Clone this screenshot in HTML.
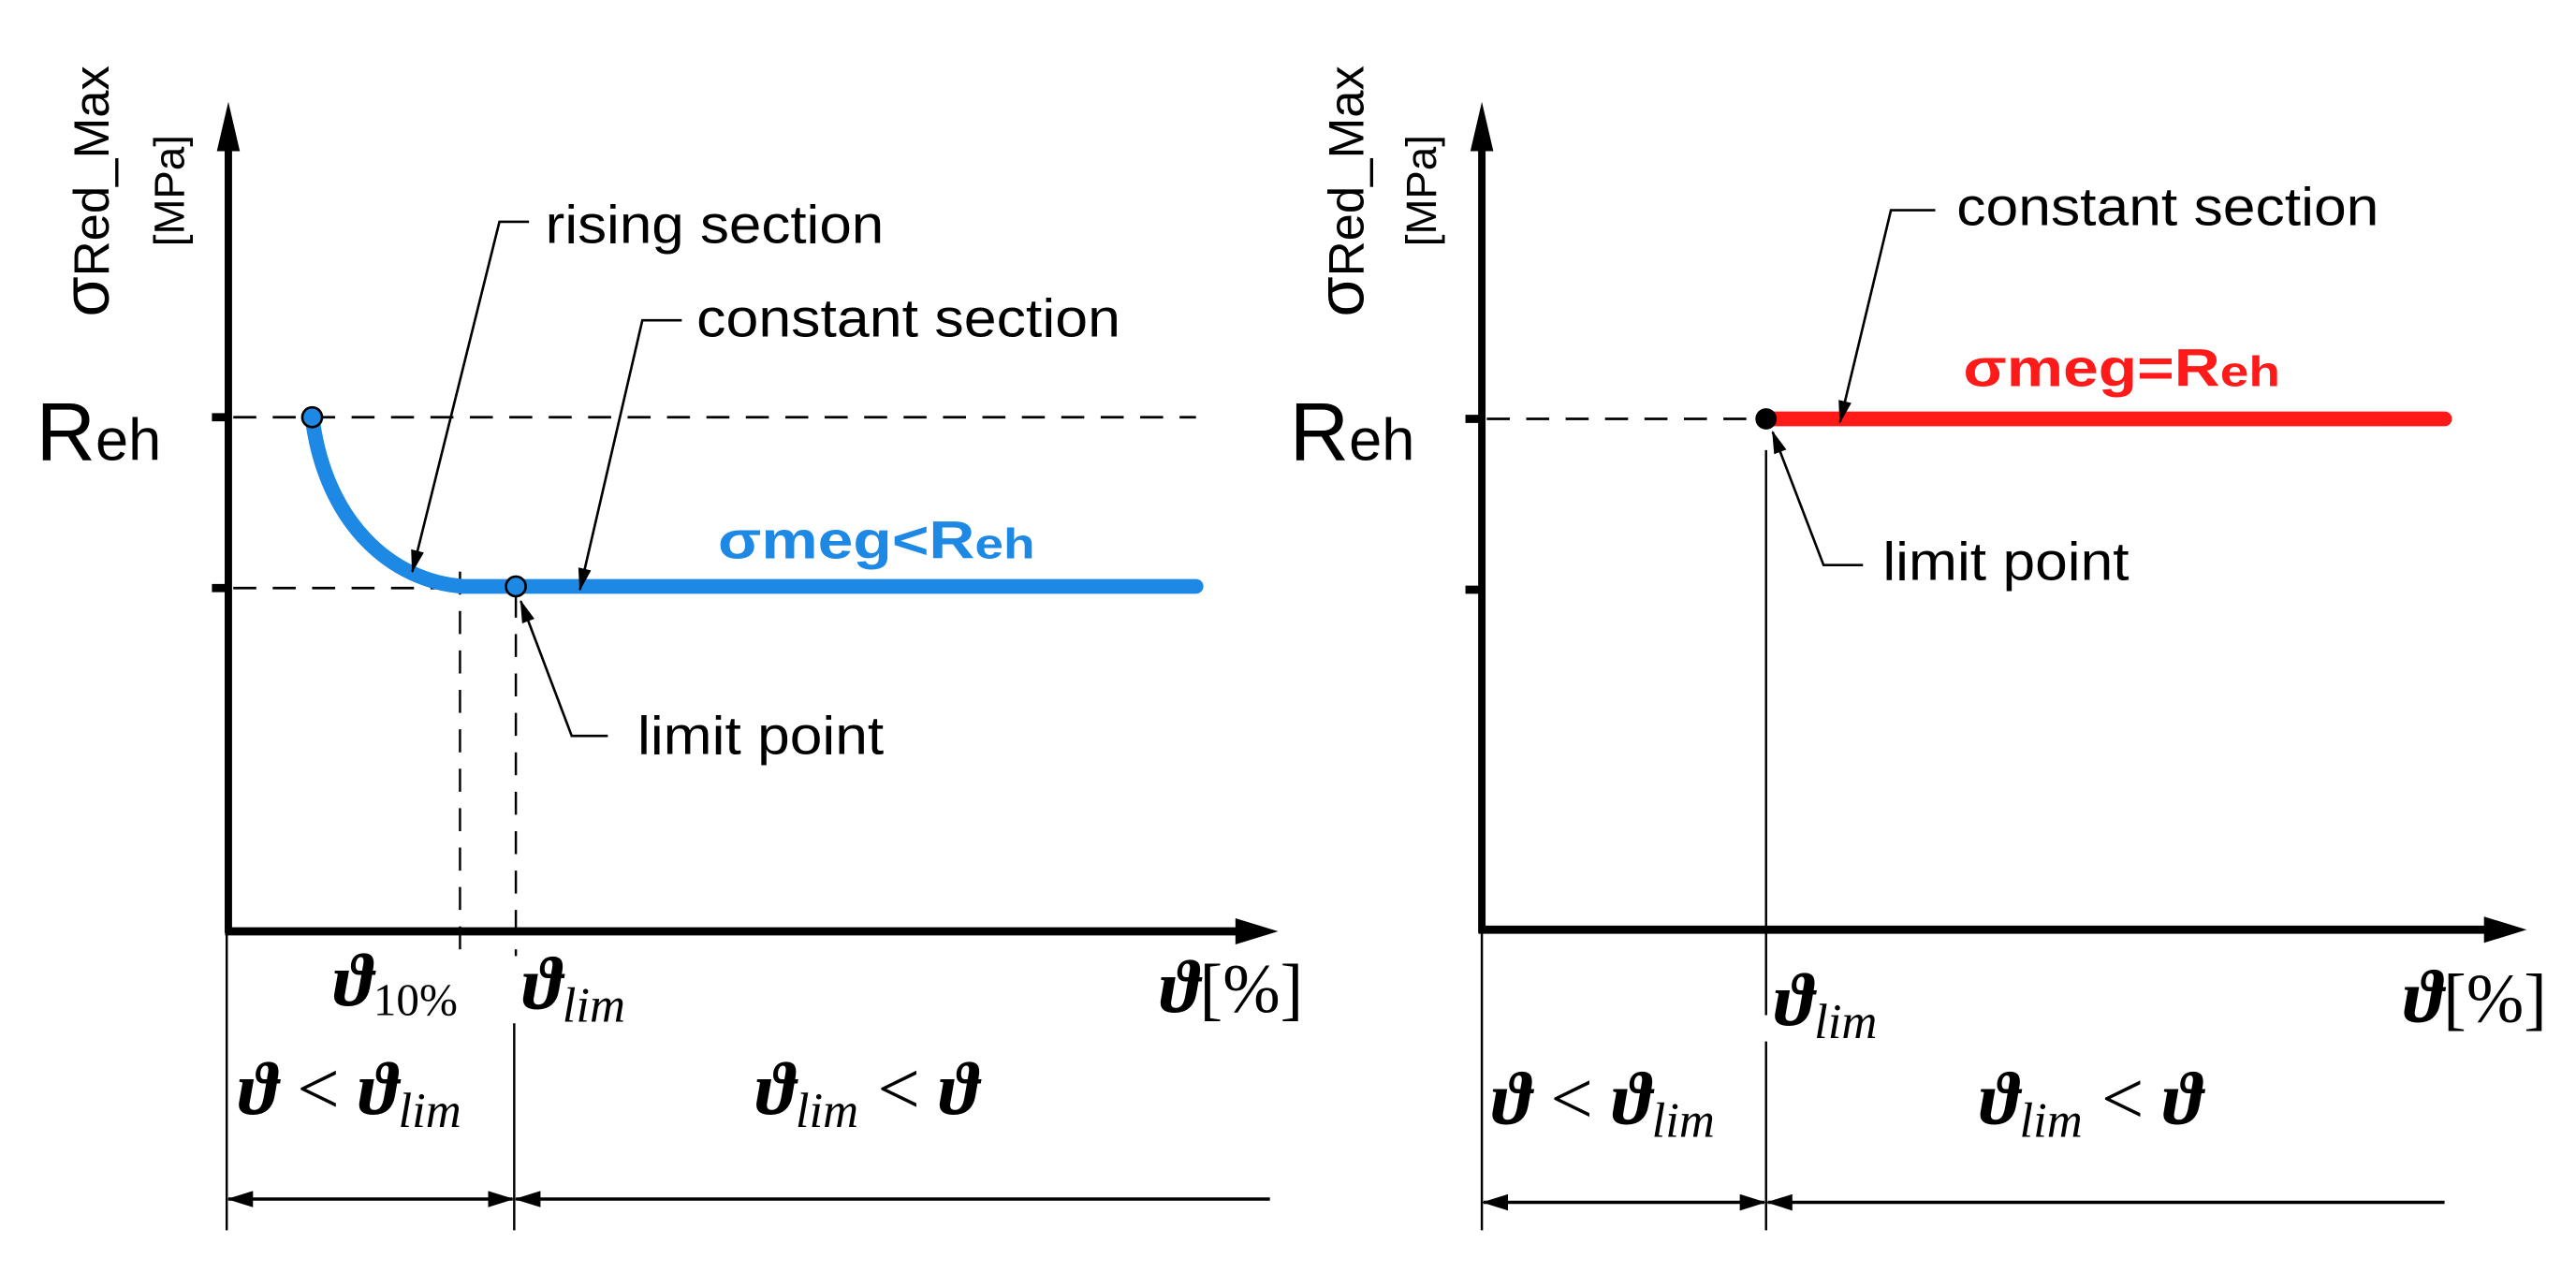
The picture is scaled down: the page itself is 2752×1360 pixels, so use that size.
<!DOCTYPE html>
<html><head><meta charset="utf-8"><style>
html,body{margin:0;padding:0;background:#fff;}
svg{display:block;}
.lbl{font-family:"Liberation Sans",Arial,sans-serif;fill:#000;}
.m{font-family:"Liberation Serif","DejaVu Serif",serif;font-style:italic;font-weight:bold;fill:#000;}
.mu{font-family:"Liberation Serif","DejaVu Serif",serif;fill:#000;}
</style></head><body>
<svg width="2752" height="1360" viewBox="0 0 1568 775" preserveAspectRatio="none" xmlns="http://www.w3.org/2000/svg">
<defs>
<marker id="ahs" markerWidth="14" markerHeight="8" refX="13" refY="4" orient="auto-start-reverse" markerUnits="userSpaceOnUse"><path d="M0,0 L14,4 L0,8 z" fill="#000"/></marker>
<marker id="ahd" markerWidth="16" markerHeight="10" refX="15" refY="5" orient="auto-start-reverse" markerUnits="userSpaceOnUse"><path d="M0,0 L16,5 L0,10 z" fill="#000"/></marker>
</defs>
<rect width="1568" height="775" fill="#fff"/>

<!-- ===== LEFT CHART ===== -->
<text class="lbl" transform="translate(66,193) rotate(-90)" font-size="40">σ<tspan font-size="30">Red_Max</tspan></text>
<text class="lbl" transform="translate(112,150) rotate(-90)" font-size="26">[MPa]</text>
<text class="lbl" x="22" y="280" font-size="50">R<tspan font-size="36">eh</tspan></text>
<line x1="139" y1="80" x2="139" y2="568" stroke="#000" stroke-width="4.5"/>
<path d="M139,62 L132,92 L146,92 z" fill="#000"/>
<line x1="137" y1="567" x2="760" y2="567" stroke="#000" stroke-width="5"/>
<path d="M778,567 L752,559 L752,575 z" fill="#000"/>
<line x1="129" y1="254" x2="139" y2="254" stroke="#000" stroke-width="5"/>
<line x1="129" y1="358" x2="139" y2="358" stroke="#000" stroke-width="5"/>
<line x1="142" y1="254" x2="728" y2="254" stroke="#000" stroke-width="1.6" stroke-dasharray="14,10"/>
<line x1="142" y1="358" x2="272" y2="358" stroke="#000" stroke-width="1.6" stroke-dasharray="14,10"/>
<line x1="280" y1="348" x2="280" y2="582" stroke="#000" stroke-width="1.4" stroke-dasharray="14,10"/>
<line x1="314" y1="362" x2="314" y2="582" stroke="#000" stroke-width="1.4" stroke-dasharray="14,10"/>
<path d="M190,254 C198,318 238,354 282,357 L728,357" fill="none" stroke="#1e88e5" stroke-width="9" stroke-linecap="round"/>
<circle cx="190" cy="254" r="6" fill="#1e88e5" stroke="#000" stroke-width="1.5"/>
<circle cx="314" cy="357" r="6" fill="#1e88e5" stroke="#000" stroke-width="1.5"/>
<text x="437" y="340" font-family="Liberation Sans,Arial,sans-serif" font-weight="bold" font-size="32" fill="#1e88e5" textLength="193" lengthAdjust="spacingAndGlyphs">σmeg&lt;R<tspan font-size="26">eh</tspan></text>
<polyline points="322,135 304,135 251,348" fill="none" stroke="#000" stroke-width="1.5" marker-end="url(#ahs)"/>
<text class="lbl" x="332" y="148" font-size="33" textLength="206" lengthAdjust="spacingAndGlyphs">rising section</text>
<polyline points="415,195 391,195 353,359" fill="none" stroke="#000" stroke-width="1.5" marker-end="url(#ahs)"/>
<text class="lbl" x="424" y="205" font-size="33" textLength="258" lengthAdjust="spacingAndGlyphs">constant section</text>
<polyline points="370,448 348,448 317,366" fill="none" stroke="#000" stroke-width="1.5" marker-end="url(#ahs)"/>
<text class="lbl" x="388" y="459" font-size="33" textLength="150" lengthAdjust="spacingAndGlyphs">limit point</text>
<text class="m" x="203" y="612" font-size="46">ϑ<tspan class="mu" font-style="normal" font-weight="normal" font-size="28" dy="6">10%</tspan></text>
<text class="m" x="318" y="614" font-size="46">ϑ<tspan font-size="30" font-weight="normal" dy="8">lim</tspan></text>
<text class="m" x="706" y="616" font-size="46">ϑ<tspan class="mu" font-style="normal" font-weight="normal" font-size="42">[%]</tspan></text>
<text class="m" x="145" y="678" font-size="46">ϑ <tspan class="mu" font-style="normal" font-weight="normal">&lt;</tspan> ϑ<tspan font-size="30" font-weight="normal" dy="8">lim</tspan></text>
<text class="m" x="460" y="678" font-size="46">ϑ<tspan font-size="30" font-weight="normal" dy="8">lim</tspan><tspan dy="-8"> </tspan><tspan class="mu" font-style="normal" font-weight="normal">&lt;</tspan> ϑ</text>
<line x1="138" y1="568" x2="138" y2="749" stroke="#000" stroke-width="1.4"/>
<line x1="313" y1="623" x2="313" y2="749" stroke="#000" stroke-width="1.4"/>
<line x1="139" y1="730" x2="312" y2="730" stroke="#000" stroke-width="2" marker-start="url(#ahd)" marker-end="url(#ahd)"/>
<line x1="314" y1="730" x2="773" y2="730" stroke="#000" stroke-width="2" marker-start="url(#ahd)"/>

<!-- ===== RIGHT CHART ===== -->
<text class="lbl" transform="translate(830,193) rotate(-90)" font-size="40">σ<tspan font-size="30">Red_Max</tspan></text>
<text class="lbl" transform="translate(874,150) rotate(-90)" font-size="26">[MPa]</text>
<text class="lbl" x="785" y="280" font-size="50">R<tspan font-size="36">eh</tspan></text>
<line x1="902" y1="80" x2="902" y2="568" stroke="#000" stroke-width="4.5"/>
<path d="M902,62 L895,92 L909,92 z" fill="#000"/>
<line x1="900" y1="566" x2="1520" y2="566" stroke="#000" stroke-width="5"/>
<path d="M1538,566 L1512,558 L1512,574 z" fill="#000"/>
<line x1="892" y1="255" x2="902" y2="255" stroke="#000" stroke-width="5"/>
<line x1="892" y1="359" x2="902" y2="359" stroke="#000" stroke-width="5"/>
<line x1="905" y1="255" x2="1068" y2="255" stroke="#000" stroke-width="1.6" stroke-dasharray="14,10"/>
<line x1="1075" y1="255" x2="1488" y2="255" stroke="#ff1a1a" stroke-width="9" stroke-linecap="round"/>
<circle cx="1075" cy="255" r="6.5" fill="#000"/>
<text x="1195" y="235" font-family="Liberation Sans,Arial,sans-serif" font-weight="bold" font-size="32" fill="#ff1a1a" textLength="193" lengthAdjust="spacingAndGlyphs">σmeg=R<tspan font-size="26">eh</tspan></text>
<line x1="1075" y1="274" x2="1075" y2="618" stroke="#000" stroke-width="1.4"/>
<line x1="1075" y1="634" x2="1075" y2="749" stroke="#000" stroke-width="1.4"/>
<polyline points="1178,128 1151,128 1120,257" fill="none" stroke="#000" stroke-width="1.5" marker-end="url(#ahs)"/>
<text class="lbl" x="1191" y="137" font-size="33" textLength="257" lengthAdjust="spacingAndGlyphs">constant section</text>
<polyline points="1134,344 1110,344 1079,263" fill="none" stroke="#000" stroke-width="1.5" marker-end="url(#ahs)"/>
<text class="lbl" x="1146" y="353" font-size="33" textLength="150" lengthAdjust="spacingAndGlyphs">limit point</text>
<text class="m" x="1080" y="624" font-size="46">ϑ<tspan font-size="30" font-weight="normal" dy="8">lim</tspan></text>
<text class="m" x="1463" y="622" font-size="46">ϑ<tspan class="mu" font-style="normal" font-weight="normal" font-size="42">[%]</tspan></text>
<text class="m" x="908" y="684" font-size="46">ϑ <tspan class="mu" font-style="normal" font-weight="normal">&lt;</tspan> ϑ<tspan font-size="30" font-weight="normal" dy="8">lim</tspan></text>
<text class="m" x="1205" y="684" font-size="46">ϑ<tspan font-size="30" font-weight="normal" dy="8">lim</tspan><tspan dy="-8"> </tspan><tspan class="mu" font-style="normal" font-weight="normal">&lt;</tspan> ϑ</text>
<line x1="902" y1="568" x2="902" y2="749" stroke="#000" stroke-width="1.4"/>
<line x1="903" y1="732" x2="1074" y2="732" stroke="#000" stroke-width="2" marker-start="url(#ahd)" marker-end="url(#ahd)"/>
<line x1="1076" y1="732" x2="1488" y2="732" stroke="#000" stroke-width="2" marker-start="url(#ahd)"/>
</svg>
</body></html>
